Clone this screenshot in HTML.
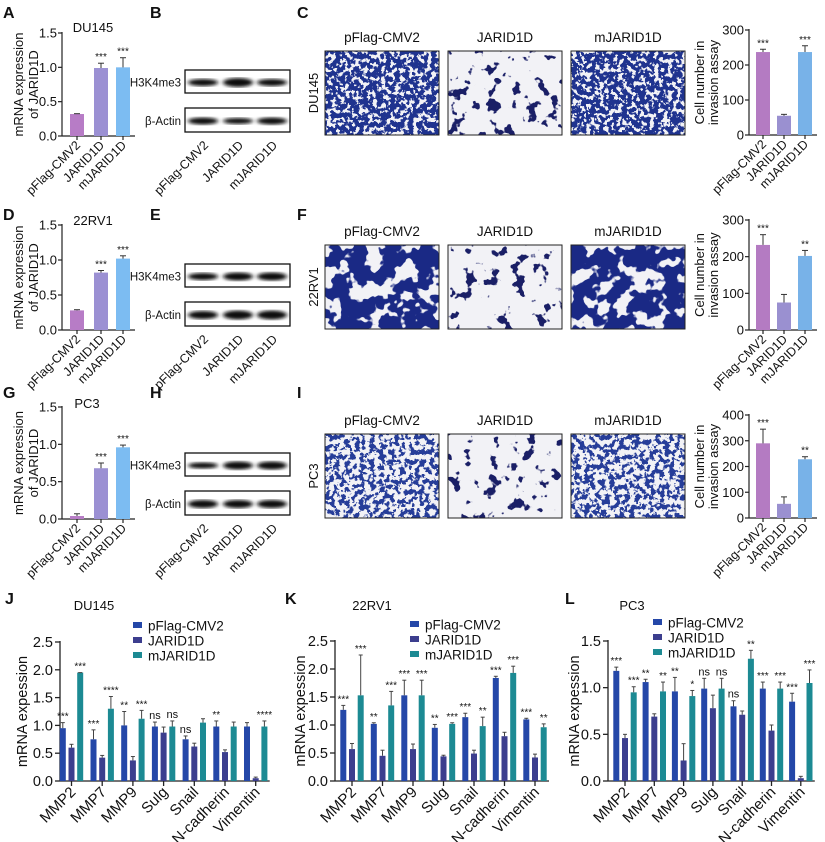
<!DOCTYPE html>
<html><head><meta charset="utf-8"><style>
html,body{margin:0;padding:0;background:#fff;}
svg{display:block;font-family:"Liberation Sans",Arial,sans-serif;}
</style></head><body>
<svg id="fig" width="825" height="842" viewBox="0 0 825 842" xmlns="http://www.w3.org/2000/svg">
<defs>
<filter id="tDense" x="0" y="0" width="100%" height="100%" color-interpolation-filters="sRGB"><feTurbulence type="fractalNoise" baseFrequency="0.22" numOctaves="3" seed="3"/><feColorMatrix type="matrix" values="0 0 0 0 0.12 0 0 0 0 0.2 0 0 0 0 0.56 22 0 0 0 -9.4"/></filter>
<filter id="tSparse" x="0" y="0" width="100%" height="100%" color-interpolation-filters="sRGB"><feTurbulence type="fractalNoise" baseFrequency="0.08" numOctaves="3" seed="7"/><feColorMatrix type="matrix" values="0 0 0 0 0.1 0 0 0 0 0.12 0 0 0 0 0.4 22 0 0 0 -13.6"/></filter>
<filter id="tBlob" x="0" y="0" width="100%" height="100%" color-interpolation-filters="sRGB"><feTurbulence type="fractalNoise" baseFrequency="0.06" numOctaves="3" seed="11"/><feColorMatrix type="matrix" values="0 0 0 0 0.1 0 0 0 0 0.16 0 0 0 0 0.52 22 0 0 0 -9.6"/></filter>
<filter id="tMed" x="0" y="0" width="100%" height="100%" color-interpolation-filters="sRGB"><feTurbulence type="fractalNoise" baseFrequency="0.2" numOctaves="3" seed="5"/><feColorMatrix type="matrix" values="0 0 0 0 0.15 0 0 0 0 0.24 0 0 0 0 0.6 22 0 0 0 -10.8"/></filter>
<filter id="blur1"><feGaussianBlur stdDeviation="2.2 1.6"/></filter>
</defs>
</svg>
<script>
// ---------- data ----------
const groups3 = ["pFlag-CMV2","JARID1D","mJARID1D"];
const mrnaDU = [0.32, 0.99, 1.0];
const mrnaDUerr = [0.005, 0.07, 0.14];
const mrnaDUsig = ["", "***", "***"];
const mrna22 = [0.28, 0.82, 1.02];
const mrna22err = [0.01, 0.03, 0.04];
const mrna22sig = ["", "***", "***"];
const mrnaPC = [0.04, 0.68, 0.96];
const mrnaPCerr = [0.03, 0.07, 0.03];
const mrnaPCsig = ["", "***", "***"];
const mrnaTicks = [0, 0.5, 1.0, 1.5];
const invDU = [237, 55, 237];
const invDUerr = [8, 4, 18];
const invDUsig = ["***", "", "***"];
const inv22 = [232, 75, 202];
const inv22err = [28, 22, 15];
const inv22sig = ["***", "", "**"];
const invPC = [290, 55, 228];
const invPCerr = [55, 27, 10];
const invPCsig = ["***", "", "**"];
const invTicks3 = [0, 100, 200, 300];
const invTicks4 = [0, 100, 200, 300, 400];
const genes = ["MMP2","MMP7","MMP9","Sulg","Snail","N-cadherin","Vimentin"];
const seriesNames = ["pFlag-CMV2","JARID1D","mJARID1D"];
const jPf = [0.95,0.75,1.0,0.98,0.75,0.98,0.98];
const jPfErr = [0.1,0.17,0.25,0.08,0.06,0.1,0.07];
const jJa = [0.6,0.42,0.37,0.87,0.62,0.52,0.05];
const jJaErr = [0.06,0.04,0.07,0.1,0.06,0.04,0.02];
const jMj = [1.95,1.3,1.12,0.98,1.05,0.98,0.98];
const jMjErr = [0,0.22,0.15,0.1,0.07,0.08,0.1];
const jPfSig = ["***","***","**","ns","ns","**",""];
const jMjSig = ["***","****","***","ns","","","****"];
const kPf = [1.27,1.02,1.53,0.95,1.14,1.84,1.1];
const kPfErr = [0.08,0.02,0.27,0.06,0.07,0.03,0.02];
const kJa = [0.57,0.45,0.57,0.44,0.49,0.8,0.42];
const kJaErr = [0.1,0.1,0.09,0.02,0.06,0.07,0.06];
const kMj = [1.53,1.35,1.53,1.02,0.98,1.93,0.96];
const kMjErr = [0.72,0.25,0.27,0.02,0.16,0.12,0.06];
const kPfSig = ["***","**","***","**","***","***","***"];
const kMjSig = ["***","***","***","***","**","***","**"];
const lPf = [1.18,1.06,0.96,0.99,0.8,0.99,0.85];
const lPfErr = [0.04,0.03,0.15,0.11,0.06,0.07,0.09];
const lJa = [0.46,0.69,0.22,0.78,0.71,0.54,0.03];
const lJaErr = [0.04,0.03,0.18,0.14,0.04,0.06,0.02];
const lMj = [0.95,0.96,0.91,0.99,1.31,0.99,1.05];
const lMjErr = [0.06,0.1,0.06,0.11,0.09,0.07,0.14];
const lPfSig = ["***","**","**","ns","ns","***","***"];
const lMjSig = ["***","**","*","ns","**","***","***"];
const ticks25 = [0,0.5,1.0,1.5,2.0,2.5];
const ticks15 = [0,0.5,1.0,1.5];

// ---------- helpers ----------
const NS = "http://www.w3.org/2000/svg";
const svg = document.getElementById("fig");
function mk(tag, attrs, parent, txt){
  const e = document.createElementNS(NS, tag);
  for (const k in attrs) e.setAttribute(k, attrs[k]);
  if (txt !== undefined) e.textContent = txt;
  (parent||svg).appendChild(e);
  return e;
}
function label(x,y,t,size,opts){
  opts = opts||{};
  const e = mk("text",{x:x,y:y,"font-size":size,fill:"#111","text-anchor":opts.anchor||"start","font-weight":opts.bold?"bold":"normal"},opts.parent,t);
  if (opts.rot!==undefined) e.setAttribute("transform","rotate("+opts.rot+" "+x+" "+y+")");
  return e;
}
function fmt(v,dec){return dec?v.toFixed(1):String(v);}

function smallChart(c){
  const g = mk("g",{});
  
  
  const ys = v => c.y0 - (v/c.max)*(c.y0-c.yTop);
  const right = c.centers[c.centers.length-1] + 12;
  mk("line",{x1:c.ax,y1:c.yTop-1,x2:c.ax,y2:c.y0,stroke:"#222","stroke-width":1.2},g);
  mk("line",{x1:c.ax,y1:c.y0,x2:right,y2:c.y0,stroke:"#222","stroke-width":1.2},g);
  c.ticks.forEach(t=>{
    mk("line",{x1:c.ax-4,y1:ys(t),x2:c.ax,y2:ys(t),stroke:"#222","stroke-width":1.2},g);
    label(c.ax-5,ys(t)+4.5,fmt(t,c.dec),13,{anchor:"end",parent:g});
  });
  c.values.forEach((v,i)=>{
    const cx=c.centers[i], w=14;
    const b = mk("rect",{x:cx-w/2,y:ys(v),width:w,height:c.y0-ys(v),fill:c.colors[i]},g);
    
    
    const et = ys(v+c.errs[i]);
    mk("line",{x1:cx,y1:ys(v),x2:cx,y2:et,stroke:"#333","stroke-width":1},g);
    mk("line",{x1:cx-3,y1:et,x2:cx+3,y2:et,stroke:"#333","stroke-width":1},g);
    mk("line",{x1:cx,y1:c.y0,x2:cx,y2:c.y0+4,stroke:"#222","stroke-width":1.2},g);
    if(c.sig[i]) label(cx,et-3,c.sig[i],10,{anchor:"middle",parent:g});
    label(cx+4,c.y0+10,groups3[i],12.5,{anchor:"end",rot:-45,parent:g});
  });
  const my=(c.yTop+c.y0)/2;
  label(c.tx1,my,c.t1,13,{anchor:"middle",rot:-90,parent:g});
  label(c.tx2,my,c.t2,13,{anchor:"middle",rot:-90,parent:g});
  if(c.title) label(c.titleX,c.titleY,c.title,13,{anchor:"middle",parent:g});
}

function bigChart(c){
  const g = mk("g",{});
  
  
  const ys = v => c.y0 - (v/c.max)*(c.y0-c.yTop);
  const xc = i => c.x0 + i*c.step;
  const right = xc(genes.length-1)+14;
  mk("line",{x1:c.ax,y1:c.yTop-1,x2:c.ax,y2:c.y0,stroke:"#222","stroke-width":1.3},g);
  mk("line",{x1:c.ax,y1:c.y0,x2:right,y2:c.y0,stroke:"#222","stroke-width":1.3},g);
  c.ticks.forEach(t=>{
    mk("line",{x1:c.ax-5,y1:ys(t),x2:c.ax,y2:ys(t),stroke:"#222","stroke-width":1.3},g);
    label(c.ax-7,ys(t)+5,t.toFixed(1),14.5,{anchor:"end",parent:g});
  });
  const cols=["#2447a8","#3c3e8e","#1c8a93"];
  const off=[-8.7,0,8.7];
  genes.forEach((gn,i)=>{
    const cx=xc(i);
    c.series.forEach((s,k)=>{
      const v=s[i], bx=cx+off[k];
      const b = mk("rect",{x:bx-3,y:ys(v),width:6,height:c.y0-ys(v),fill:cols[k]},g);
      
      
      const et=ys(v+c.errs[k][i]);
      mk("line",{x1:bx,y1:ys(v),x2:bx,y2:et,stroke:"#444","stroke-width":1},g);
      mk("line",{x1:bx-2,y1:et,x2:bx+2,y2:et,stroke:"#444","stroke-width":1},g);
      let sg = k===0?c.pfSig[i]:(k===2?c.mjSig[i]:"");
      if(sg) label(bx,et-3,sg,sg==="ns"?11:10,{anchor:"middle",parent:g});
    });
    mk("line",{x1:cx,y1:c.y0,x2:cx,y2:c.y0+5,stroke:"#222","stroke-width":1.3},g);
    label(cx+5,c.y0+12,gn,15,{anchor:"end",rot:-45,parent:g});
  });
  label(c.titleX,c.y0-(c.y0-c.yTop)/2,"mRNA expession",14.5,{anchor:"middle",rot:-90,parent:g});
  label(c.cellX,610,c.cell,13,{anchor:"middle",parent:g});
  seriesNames.forEach((n,k)=>{
    const ly=c.legY+k*15;
    const r=mk("rect",{x:c.legX,y:ly-4,width:9,height:6,fill:cols[k]},g);
    
    
    label(c.legX+15,ly+4.5,n,13.5,{parent:g});
  });
}

[["A",3,18],["B",150,18],["C",297,18],["D",3,220],["E",150,220],["F",297,220],["G",3,398],["H",150,398],["I",297,398],["J",5,604],["K",285,604],["L",565,604]].forEach(p=>{
  const t=label(p[1],p[2],p[0],16,{bold:true});
  
  
});

const cA=["#b77cc6","#9b90d3","#7cbcf2"];
smallChart({name:"chart-a-du145",ax:62,y0:136,yTop:33,max:1.5,ticks:mrnaTicks,dec:true,centers:[77,101,123],values:mrnaDU,errs:mrnaDUerr,sig:mrnaDUsig,colors:cA,t1:"mRNA expression",t2:"of JARID1D",tx1:23,tx2:38,title:"DU145",titleX:93,titleY:32});
smallChart({name:"chart-d-22rv1",ax:62,y0:330,yTop:225,max:1.5,ticks:mrnaTicks,dec:true,centers:[77,101,123],values:mrna22,errs:mrna22err,sig:mrna22sig,colors:cA,t1:"mRNA expression",t2:"of JARID1D",tx1:23,tx2:38,title:"22RV1",titleX:93,titleY:225});
smallChart({name:"chart-g-pc3",ax:62,y0:519,yTop:407,max:1.5,ticks:mrnaTicks,dec:true,centers:[77,101,123],values:mrnaPC,errs:mrnaPCerr,sig:mrnaPCsig,colors:cA,t1:"mRNA expression",t2:"of JARID1D",tx1:23,tx2:38,title:"PC3",titleX:87,titleY:408});

const cC=["#b47bc2","#9a90d0","#78b2e8"];
smallChart({name:"chart-c-invasion",ax:749,y0:135,yTop:30,max:300,ticks:invTicks3,centers:[763,784,805],values:invDU,errs:invDUerr,sig:invDUsig,colors:cC,t1:"Cell number in",t2:"invasion assay",tx1:704,tx2:718});
smallChart({name:"chart-f-invasion",ax:749,y0:330,yTop:220,max:300,ticks:invTicks3,centers:[763,784,805],values:inv22,errs:inv22err,sig:inv22sig,colors:cC,t1:"Cell number in",t2:"invasion assay",tx1:704,tx2:718});
smallChart({name:"chart-i-invasion",ax:749,y0:518,yTop:415,max:400,ticks:invTicks4,centers:[763,784,805],values:invPC,errs:invPCerr,sig:invPCsig,colors:cC,t1:"Cell number in",t2:"invasion assay",tx1:704,tx2:718});

function blot(name,dy,w1,w2){
  const g=mk("g",{});
  
  
  const boxes=[["H3K4me3",70+dy,23,w1],["β-Actin",108+dy,24,w2]];
  boxes.forEach(b=>{
    mk("rect",{x:185,y:b[1],width:105,height:b[2],fill:"#fff",stroke:"#111","stroke-width":1.3},g);
    const cy=b[1]+b[2]/2+1;
    [203,238,272].forEach((x,i)=>{
      mk("ellipse",{cx:x,cy:cy,rx:15,ry:b[3][i],fill:"#111",filter:"url(#blur1)"},g);
    });
    label(181,cy+4,b[0],11.5,{anchor:"end",parent:g});
  });
  [205,240,274].forEach((x,i)=>label(x+4,146+dy,groups3[i],12.5,{anchor:"end",rot:-45,parent:g}));
}
blot("blot-b",0,[3.5,4.5,3.5],[3.5,3,3.5]);
blot("blot-e",194,[3.5,4,4],[4,4.5,4.5]);
blot("blot-h",383,[3,4,4],[4,4,4]);

function micro(name,x,y,filt,bg){
  const g=mk("g",{});
  
  
  mk("rect",{x:x,y:y,width:114,height:84,fill:bg},g);
  mk("rect",{x:x,y:y,width:114,height:84,fill:"#000",filter:"url(#"+filt+")"},g);
  mk("rect",{x:x,y:y,width:114,height:84,fill:"none",stroke:"#222","stroke-width":1},g);
}
const imgX=[325,448,571];
const rowsY=[51,245,434];
const cells=["DU145","22RV1","PC3"];
const filts=[["tDense","tSparse","tDense"],["tBlob","tSparse","tBlob"],["tMed","tSparse","tMed"]];
rowsY.forEach((y,r)=>{
  imgX.forEach((x,i)=>{
    micro("micrograph-"+cells[r].toLowerCase()+"-"+groups3[i].toLowerCase(),x,y,filts[r][i],"#f2f2f6");
    label(x+57,y-9,groups3[i],13.5,{anchor:"middle"});
  });
  label(318,y+42,cells[r],13,{anchor:"middle",rot:-90});
});

bigChart({name:"chart-j-du145",ax:60,y0:781,yTop:642,max:2.5,ticks:ticks25,x0:71.5,step:30.7,series:[jPf,jJa,jMj],errs:[jPfErr,jJaErr,jMjErr],pfSig:jPfSig,mjSig:jMjSig,titleX:27,cell:"DU145",cellX:94,legX:133,legY:626});
bigChart({name:"chart-k-22rv1",ax:335,y0:781,yTop:641,max:2.5,ticks:ticks25,x0:352,step:30.5,series:[kPf,kJa,kMj],errs:[kPfErr,kJaErr,kMjErr],pfSig:kPfSig,mjSig:kMjSig,titleX:305,cell:"22RV1",cellX:372,legX:410,legY:625});
bigChart({name:"chart-l-pc3",ax:608,y0:781,yTop:641,max:1.5,ticks:ticks15,x0:625,step:29.3,series:[lPf,lJa,lMj],errs:[lPfErr,lJaErr,lMjErr],pfSig:lPfSig,mjSig:lMjSig,titleX:579,cell:"PC3",cellX:632,legX:653,legY:623});
</script>
</body></html>
